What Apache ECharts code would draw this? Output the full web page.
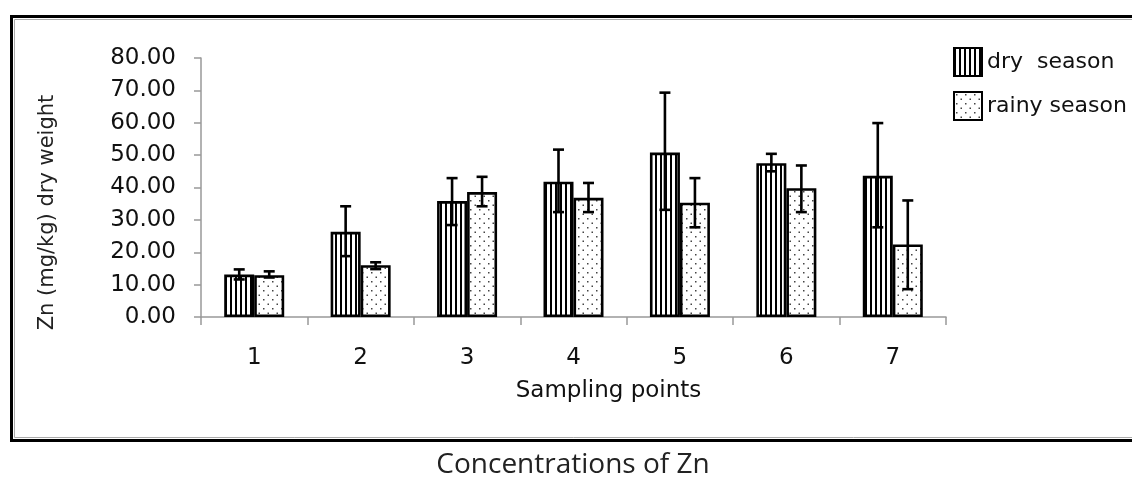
<!DOCTYPE html>
<html>
<head>
<meta charset="utf-8">
<script src="https://cdn.jsdelivr.net/npm/echarts@6/dist/echarts.min.js"></script>
<style>
html,body{margin:0;padding:0;background:#fff;}
#chart{width:1132px;height:480px;}
</style>
</head>
<body>
<div id="chart"></div>
<script>
// ---- data ----
const categories = ['1', '2', '3', '4', '5', '6', '7'];
const seriesNames = ['dry  season', 'rainy season'];
const dryMean = [13.1, 26.3, 35.8, 41.8, 50.8, 47.5, 43.6];
const dryLow  = [11.6, 18.8, 28.4, 32.4, 33.1, 45.0, 27.7];
const dryHigh = [14.7, 34.2, 42.9, 51.7, 69.3, 50.4, 59.9];
const rainyMean = [12.9, 16.0, 38.6, 36.8, 35.3, 39.8, 22.4];
const rainyLow  = [12.2, 14.8, 34.2, 32.4, 27.7, 32.4, 8.6];
const rainyHigh = [14.1, 16.9, 43.3, 41.4, 42.9, 46.8, 36.0];
const yTicks = { min: 0, max: 80, interval: 10 };
const chartTitle = 'Concentrations of Zn';
const xName = 'Sampling points';
const yName = 'Zn (mg/kg) dry weight';

// ---- patterns ----
function stripeCanvas() {
  const c = document.createElement('canvas');
  c.width = 5; c.height = 5;
  const g = c.getContext('2d');
  g.fillStyle = '#fff'; g.fillRect(0, 0, 5, 5);
  g.fillStyle = '#000'; g.fillRect(0, 0, 2, 5);
  return c;
}
function dotCanvas() {
  const c = document.createElement('canvas');
  c.width = 9; c.height = 9;
  const g = c.getContext('2d');
  g.fillStyle = '#fff'; g.fillRect(0, 0, 9, 9);
  g.fillStyle = '#444';
  g.fillRect(2, 2, 1.5, 1.5);
  g.fillRect(6.5, 6.5, 1.5, 1.5);
  return c;
}
const stripeFill = { image: stripeCanvas(), repeat: 'repeat' };
const dotFill = { image: dotCanvas(), repeat: 'repeat' };

const BAR_W = 30;

function errSeries(low, high, offset) {
  return {
    type: 'custom',
    silent: true,
    z: 5,
    data: categories.map((c, i) => [i, low[i], high[i]]),
    encode: { x: 0, y: [1, 2] },
    renderItem: function (params, api) {
      const i = api.value(0);
      const lo = api.coord([i, api.value(1)]);
      const hi = api.coord([i, api.value(2)]);
      const x = lo[0] + offset;
      const cap = 5.5;
      const st = { stroke: '#000', lineWidth: 2.6 };
      return {
        type: 'group',
        children: [
          { type: 'line', shape: { x1: x, y1: hi[1], x2: x, y2: lo[1] }, style: st },
          { type: 'line', shape: { x1: x - cap, y1: hi[1], x2: x + cap, y2: hi[1] }, style: st },
          { type: 'line', shape: { x1: x - cap, y1: lo[1], x2: x + cap, y2: lo[1] }, style: st }
        ]
      };
    }
  };
}

const chart = echarts.init(document.getElementById('chart'), null, { renderer: 'canvas' });
chart.setOption({
  backgroundColor: '#fff',
  animation: false,
  title: {
    text: chartTitle,
    left: 568, top: 446, textAlign: 'center',
    textStyle: { fontFamily: 'Open Sans', fontSize: 28, fontWeight: 'normal', color: '#222' }
  },
  legend: {
    orient: 'vertical',
    left: 953, top: 47, padding: 0,
    icon: 'rect',
    itemWidth: 28, itemHeight: 28, itemGap: 14,
    data: seriesNames,
    textStyle: { fontFamily: 'DejaVu Sans', fontSize: 22, color: '#111' }
  },
  graphic: [
    { type: 'rect', shape: { x: 11.5, y: 16.5, width: 1200, height: 424 }, style: { fill: 'none', stroke: '#000', lineWidth: 3 }, silent: true },
    { type: 'rect', shape: { x: 14.5, y: 19.5, width: 1200, height: 418 }, style: { fill: 'none', stroke: '#aaa', lineWidth: 1 }, silent: true }
  ],
  grid: { left: 201, right: 186, top: 58, bottom: 163 },
  xAxis: {
    type: 'category',
    data: categories,
    name: xName,
    nameLocation: 'middle',
    nameGap: 63,
    nameTextStyle: { fontFamily: 'DejaVu Sans', fontSize: 23, color: '#111', padding: [0, 0, 0, 70] },
    axisLine: { lineStyle: { color: '#999', width: 1.5 } },
    axisTick: { show: true, length: 8, lineStyle: { color: '#999', width: 1.5 } },
    axisLabel: { fontFamily: 'DejaVu Sans', fontSize: 23, color: '#111', margin: 30 },
    splitLine: { show: false }
  },
  yAxis: {
    type: 'value',
    min: yTicks.min, max: yTicks.max, interval: yTicks.interval,
    name: yName,
    nameLocation: 'middle',
    nameGap: 143,
    nameTextStyle: { fontFamily: 'DejaVu Sans', fontSize: 21, color: '#222', padding: [0, 50, 0, 0] },
    axisLine: { show: true, lineStyle: { color: '#999', width: 1.5 } },
    axisTick: { show: true, length: 7, lineStyle: { color: '#999', width: 1.5 } },
    axisLabel: { fontFamily: 'DejaVu Sans', fontSize: 23, color: '#111', margin: 25,
      formatter: v => v.toFixed(2) },
    splitLine: { show: false }
  },
  series: [
    {
      name: seriesNames[0], type: 'bar', data: dryMean,
      barWidth: BAR_W, barGap: '0%',
      itemStyle: { color: stripeFill, borderColor: '#000', borderWidth: 2.6 }
    },
    {
      name: seriesNames[1], type: 'bar', data: rainyMean,
      barWidth: BAR_W, barGap: '0%',
      itemStyle: { color: dotFill, borderColor: '#000', borderWidth: 2.6 }
    },
    errSeries(dryLow, dryHigh, -BAR_W / 2),
    errSeries(rainyLow, rainyHigh, BAR_W / 2)
  ]
});
</script>
</body>
</html>
